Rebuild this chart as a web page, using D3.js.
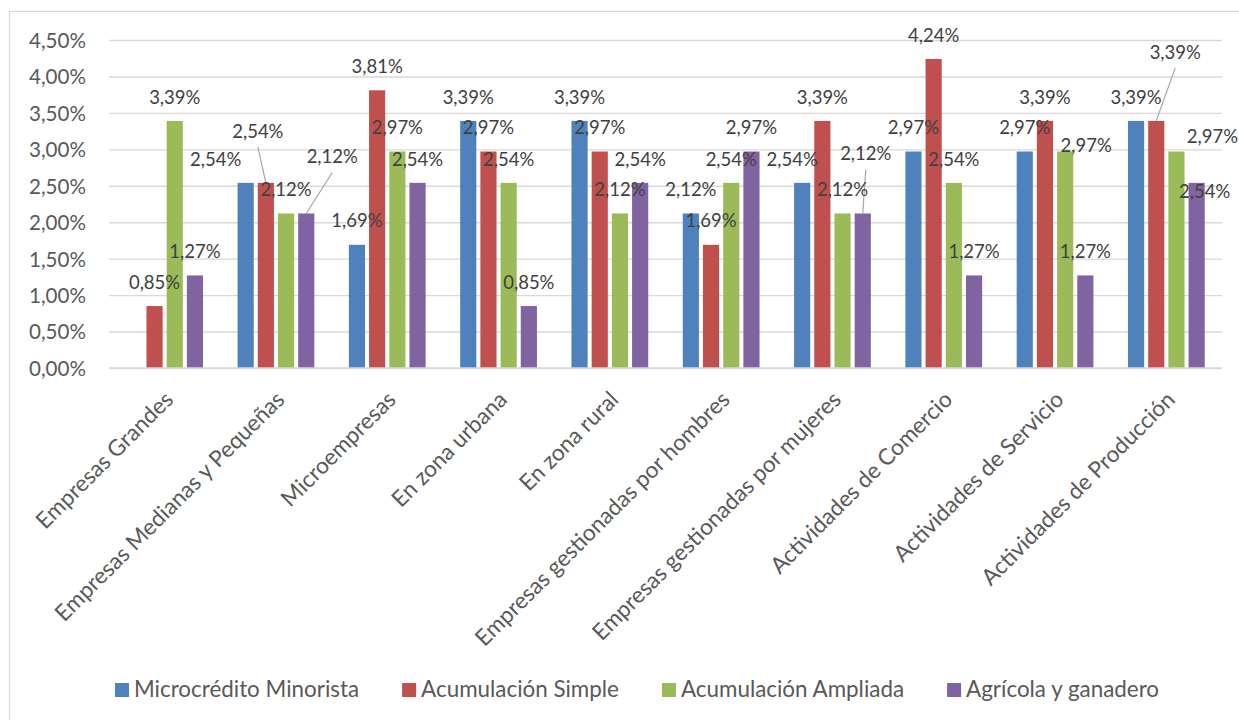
<!DOCTYPE html>
<html>
<head>
<meta charset="utf-8">
<script src="https://cdn.jsdelivr.net/npm/d3@7"></script>
<style>
  html, body { margin: 0; padding: 0; background: #ffffff; }
  svg { display: block; }
  text { font-family: Lato, "Noto Sans", sans-serif; }
</style>
</head>
<body>
<svg id="chart" width="1239" height="720"></svg>
<script>
// Categories along the x axis
const categories = [
  "Empresas Grandes",
  "Empresas Medianas y Pequeñas",
  "Microempresas",
  "En zona urbana",
  "En zona rural",
  "Empresas gestionadas por hombres",
  "Empresas gestionadas por mujeres",
  "Actividades de Comercio",
  "Actividades de Servicio",
  "Actividades de Producción"
];

// Series names (legend order)
const seriesNames = [
  "Microcrédito Minorista",
  "Acumulación Simple",
  "Acumulación Ampliada",
  "Agrícola y ganadero"
];

// Values in percent, one per category (null = empty cell)
const microcreditoMinorista = [null, 2.54, 1.69, 3.39, 3.39, 2.12, 2.54, 2.97, 2.97, 3.39];
const acumulacionSimple     = [0.85, 2.54, 3.81, 2.97, 2.97, 1.69, 3.39, 4.24, 3.39, 3.39];
const acumulacionAmpliada   = [3.39, 2.12, 2.97, 2.54, 2.12, 2.54, 2.12, 2.54, 2.97, 2.97];
const agricolaGanadero      = [1.27, 2.12, 2.54, 0.85, 2.54, 2.97, 2.12, 1.27, 1.27, 2.54];

// Y axis tick values (percent)
const yTicks = [0, 0.5, 1, 1.5, 2, 2.5, 3, 3.5, 4, 4.5];

const seriesValues = [microcreditoMinorista, acumulacionSimple, acumulacionAmpliada, agricolaGanadero];
const colors = ["#4f81bd", "#c0504d", "#9bbb59", "#8064a2"];

// Hand-placed data labels: [category, series, dx, dy, leader line]
const labelNudges = [
  [1, 0, -30, 0, false],
  [1, 1, -8, -28, true],
  [1, 3, 26, -33, true],
  [6, 0, -10, 0, false],
  [6, 3, 3, -36, true],
  [8, 2, 21, 18, false],
  [9, 1, 19, -45, true],
  [9, 2, 36, 9, false],
  [9, 3, 8, 32, false]
];

const fmt = v => v.toFixed(2).replace(".", ",") + "%";

const svg = d3.select("#chart");

// chart area frame
svg.append("rect")
  .attr("x", 9.5).attr("y", 11.5)
  .attr("width", 1240).attr("height", 720)
  .attr("fill", "none").attr("stroke", "#d9d9d9").attr("stroke-width", 1.3);

const plot = { left: 109, right: 1222, top: 40, bottom: 368 };

const x0 = d3.scaleBand()
  .domain(categories)
  .range([plot.left, plot.right])
  .paddingInner(0.274)
  .paddingOuter(0.137);

const x1 = d3.scaleBand()
  .domain(seriesNames)
  .range([0, x0.bandwidth()])
  .paddingInner(0.2)
  .paddingOuter(0.1);

const y = d3.scaleLinear().domain([0, 4.5]).range([plot.bottom, plot.top]);

// gridlines
const yAxis = d3.axisLeft(y)
  .tickValues(yTicks)
  .tickSize(-(plot.right - plot.left))
  .tickPadding(23)
  .tickFormat(fmt);

const gy = svg.append("g")
  .attr("transform", `translate(${plot.left},0)`)
  .call(yAxis);
gy.select(".domain").remove();
gy.selectAll(".tick line").attr("stroke", "#d9d9d9").attr("stroke-width", 1.4);
gy.selectAll(".tick text")
  .attr("fill", "#595959")
  .style("font-size", "20.6px")
  .attr("dy", "0.36em");

// category axis labels
const xAxis = d3.axisBottom(x0).tickSize(0).tickPadding(0);
const gx = svg.append("g")
  .attr("transform", `translate(0,${plot.bottom})`)
  .call(xAxis);
gx.select(".domain").remove();
gx.selectAll(".tick text")
  .attr("fill", "#595959")
  .style("font-size", "22.6px")
  .attr("text-anchor", "end")
  .attr("y", 0).attr("dy", 0)
  .attr("transform", "translate(10,33) rotate(-45)");

// bars
const flat = [];
categories.forEach((c, ci) => {
  seriesNames.forEach((s, si) => {
    const v = seriesValues[si][ci];
    if (v !== null) flat.push({ c, ci, s, si, v });
  });
});

svg.append("g").selectAll("rect")
  .data(flat)
  .join("rect")
  .attr("x", d => x0(d.c) + x1(d.s))
  .attr("y", d => y(d.v))
  .attr("width", x1.bandwidth())
  .attr("height", d => y(0) - y(d.v))
  .attr("fill", d => colors[d.si]);

// data labels
const nudgeOf = d => labelNudges.find(n => n[0] === d.ci && n[1] === d.si);
flat.forEach(d => {
  const n = nudgeOf(d);
  const bx = x0(d.c) + x1(d.s) + x1.bandwidth() / 2;
  const by = y(d.v);
  d.lx = bx + (n ? n[2] : 0);
  d.ly = by - 24 + (n ? n[3] : 0);
  d.leader = n ? n[4] : false;
  d.bx = bx; d.by = by;
});

svg.append("g").selectAll("line")
  .data(flat.filter(d => d.leader))
  .join("line")
  .attr("x1", d => d.lx).attr("y1", d => d.ly + 16)
  .attr("x2", d => d.bx).attr("y2", d => d.by)
  .attr("stroke", "#a6a6a6").attr("stroke-width", 1.2);

svg.append("g").selectAll("text")
  .data(flat)
  .join("text")
  .attr("x", d => d.lx)
  .attr("y", d => d.ly)
  .attr("dy", "0.36em")
  .attr("text-anchor", "middle")
  .attr("fill", "#404040")
  .style("font-size", "18.5px")
  .text(d => fmt(d.v));

// baseline
svg.append("line")
  .attr("x1", plot.left).attr("x2", plot.right)
  .attr("y1", y(0)).attr("y2", y(0))
  .attr("stroke", "#d9d9d9").attr("stroke-width", 1.4);

// legend
const legend = svg.append("g");
let lx = 0;
seriesNames.forEach((s, i) => {
  const g = legend.append("g").attr("transform", `translate(${lx},0)`);
  g.append("rect").attr("x", 0).attr("y", -14).attr("width", 14).attr("height", 14).attr("fill", colors[i]);
  const t = g.append("text").attr("x", 19).attr("y", 0)
    .attr("fill", "#595959").style("font-size", "22.4px").text(s);
  lx += 19 + t.node().getComputedTextLength() + 43;
});
const legendWidth = lx - 43;
legend.attr("transform", `translate(${637 - legendWidth / 2},697)`);
</script>
</body>
</html>
